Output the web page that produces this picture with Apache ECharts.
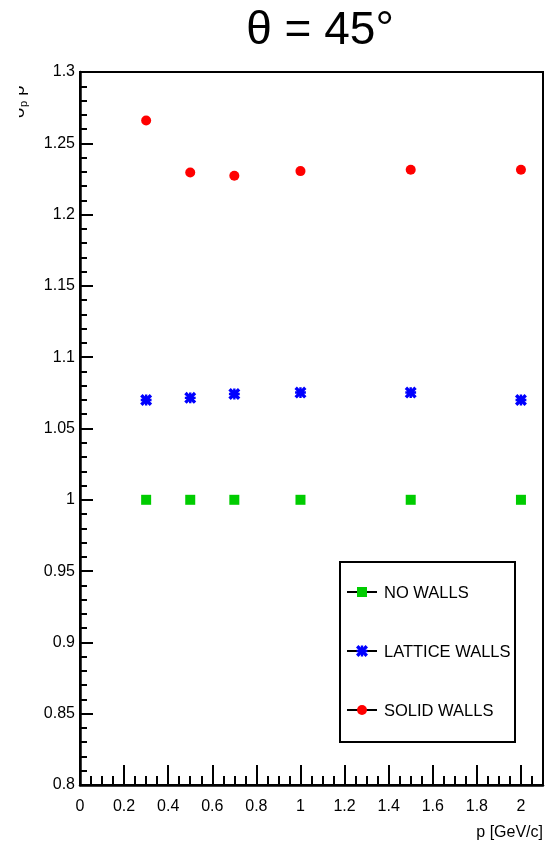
<!DOCTYPE html>
<html>
<head>
<meta charset="utf-8">
<script src="https://cdn.jsdelivr.net/npm/echarts@6/dist/echarts.min.js"></script>
<style>html,body{margin:0;padding:0;background:#fff;}#c{width:559px;height:848px;}</style>
</head>
<body>
<div id="c"></div>
<script>
const momenta = [0.3, 0.5, 0.7, 1.0, 1.5, 2.0];
const noWalls = [1.0, 1.0, 1.0, 1.0, 1.0, 1.0];
const latticeWalls = [1.070, 1.0715, 1.0742, 1.0752, 1.0752, 1.070];
const solidWalls = [1.266, 1.2295, 1.2272, 1.2305, 1.2315, 1.2315];
const seriesNames = ['NO WALLS', 'LATTICE WALLS', 'SOLID WALLS'];
const seriesColors = ['#00cc00', '#0000ff', '#ff0000'];

const starPath = 'path://M0,2L2,0L5,3L8,0L10,2L7,5L10,8L8,10L5,7L2,10L0,8L3,5Z M4,0.5L6,0.5L6,4L9.5,4L9.5,6L6,6L6,9.5L4,9.5L4,6L0.5,6L0.5,4L4,4Z';
const symbols = ['rect', starPath, 'circle'];
const sizes = [10, 12, 10];
const allData = [noWalls, latticeWalls, solidWalls];

const font = 'Liberation Sans, Arial, Helvetica, sans-serif';
const chart = echarts.init(document.getElementById('c'), null, {renderer: 'canvas'});

const series = allData.map((vals, i) => ({
  name: seriesNames[i],
  type: 'scatter',
  symbol: symbols[i],
  symbolSize: sizes[i],
  itemStyle: {color: seriesColors[i], opacity: 1},
  data: momenta.map((x, j) => [x, vals[j]]),
  z: 5
}));

// Legend built from graphics
const legendGraphics = [];
const lx = 340, ly = 562, lw = 175, lh = 180;
legendGraphics.push({type: 'rect', shape: {x: lx, y: ly, width: lw, height: lh}, style: {fill: '#fff', stroke: '#000', lineWidth: 2}, z: 10});
const rowY = [592, 651, 710];
function scalePts(pts, cx, cy, s) { return pts.map(p => [cx + (p[0] - 5) * s, cy + (p[1] - 5) * s]); }
const xPts = [[0,2],[2,0],[5,3],[8,0],[10,2],[7,5],[10,8],[8,10],[5,7],[2,10],[0,8],[3,5]];
const plusPts = [[4,0.5],[6,0.5],[6,4],[9.5,4],[9.5,6],[6,6],[6,9.5],[4,9.5],[4,6],[0.5,6],[0.5,4],[4,4]];
seriesNames.forEach((n, i) => {
  legendGraphics.push({type: 'line', shape: {x1: 347, y1: rowY[i], x2: 377, y2: rowY[i]}, style: {stroke: '#000', lineWidth: 2}, z: 11});
  if (i === 0) legendGraphics.push({type: 'rect', shape: {x: 357, y: rowY[i] - 5, width: 10, height: 10}, style: {fill: seriesColors[i]}, z: 12});
  else if (i === 1) {
    legendGraphics.push({type: 'polygon', shape: {points: scalePts(xPts, 362, rowY[i], 1.2)}, style: {fill: seriesColors[i]}, z: 12});
    legendGraphics.push({type: 'polygon', shape: {points: scalePts(plusPts, 362, rowY[i], 1.2)}, style: {fill: seriesColors[i]}, z: 12});
  }
  else legendGraphics.push({type: 'circle', shape: {cx: 362, cy: rowY[i], r: 5}, style: {fill: seriesColors[i]}, z: 12});
  legendGraphics.push({type: 'text', x: 384, y: rowY[i] + 1, style: {text: n, font: '16.5px ' + font, fill: '#000', verticalAlign: 'middle'}, z: 12});
});

chart.setOption({
  animation: false,
  backgroundColor: '#fff',
  title: {
    text: 'θ = 45°', left: 315, top: 3, textAlign: 'center',
    textStyle: {fontFamily: font, fontSize: 46, fontWeight: 'normal', color: '#000'}
  },
  grid: {left: 80, right: 16, top: 72, bottom: 63, show: true, borderColor: '#000', borderWidth: 2, backgroundColor: 'transparent'},
  xAxis: {
    type: 'value', min: 0, max: 2.1, interval: 0.2,
    name: 'p [GeV/c]', nameLocation: 'end', nameGap: 0,
    nameTextStyle: {fontFamily: font, fontSize: 16, color: '#000', align: 'right', verticalAlign: 'top', padding: [40, 0, 0, 0]},
    axisLine: {show: true, onZero: false, lineStyle: {color: '#000', width: 2.5}},
    axisTick: {show: true, inside: true, length: 20, lineStyle: {color: '#000', width: 2}},
    minorTick: {show: true, splitNumber: 4, length: 9, lineStyle: {color: '#000', width: 2}},
    splitLine: {show: false},
    axisLabel: {fontFamily: font, fontSize: 16, color: '#000', margin: 14, showMaxLabel: false}
  },
  yAxis: {
    type: 'value', min: 0.8, max: 1.3, interval: 0.05,
    axisLine: {show: true, onZero: false, lineStyle: {color: '#000', width: 2.5}},
    axisTick: {show: true, inside: true, length: 13, lineStyle: {color: '#000', width: 2}},
    minorTick: {show: true, splitNumber: 5, length: 7, lineStyle: {color: '#000', width: 2}},
    splitLine: {show: false},
    axisLabel: {fontFamily: font, fontSize: 16, color: '#000', margin: 5,
      formatter: v => String(Math.round(v * 100) / 100)}
  },
  series: series,
  graphic: [
    {type: 'text', x: 10, y: 118, rotation: Math.PI / 2,
      style: {text: '{a|σ}{s|p} {a|ρ}', font: '18px ' + font, fill: '#000',
        rich: {a: {fontSize: 18, fontFamily: font}, s: {fontSize: 11, fontFamily: font, verticalAlign: 'bottom', padding: [8, 0, 0, 0]}}}, z: 3},
    {type: 'rect', shape: {x: 0, y: 60, width: 19, height: 70}, style: {fill: '#fff'}, z: 4},
    ...legendGraphics
  ]
});
</script>
</body>
</html>
